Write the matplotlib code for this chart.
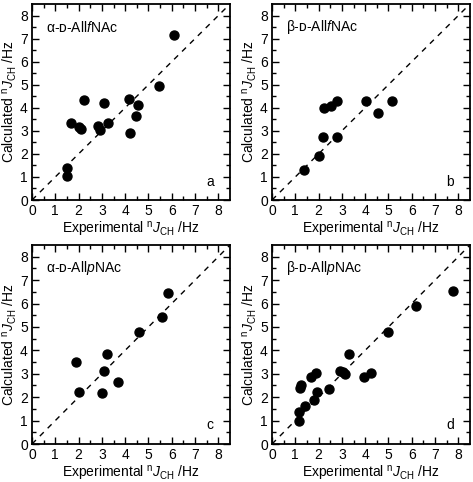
import matplotlib
matplotlib.use("Agg")
import matplotlib.pyplot as plt
import numpy as np

plt.rcParams["font.family"] = ["Liberation Sans", "DejaVu Sans"]
plt.rcParams["mathtext.fontset"] = "custom"
plt.rcParams["mathtext.rm"] = "Liberation Sans"
plt.rcParams["mathtext.it"] = "Liberation Sans:italic"
plt.rcParams["mathtext.bf"] = "Liberation Sans:bold"

# panel a: alpha-D-AllfNAc
a_exp = [1.49, 1.49, 1.68, 2.03, 2.11, 2.24, 2.84, 2.90, 3.07, 3.26, 4.17, 4.19, 4.45, 4.54, 5.44, 6.10]
a_calc = [1.02, 1.39, 3.35, 3.16, 3.10, 4.33, 3.20, 3.05, 4.19, 3.33, 4.39, 2.90, 3.66, 4.14, 4.96, 7.17]

# panel b: beta-D-AllfNAc
b_exp = [1.39, 2.03, 2.20, 2.22, 2.52, 2.80, 2.78, 4.05, 4.53, 5.16]
b_calc = [1.29, 1.89, 2.74, 4.00, 4.09, 4.31, 2.74, 4.29, 3.79, 4.29]

# panel c: alpha-D-AllpNAc
c_exp = [1.87, 2.03, 3.01, 3.10, 3.23, 3.70, 4.59, 5.57, 5.83]
c_calc = [3.50, 2.21, 2.19, 3.11, 3.84, 2.66, 4.79, 5.44, 6.43]

# panel d: beta-D-AllpNAc
d_exp = [1.14, 1.17, 1.22, 1.25, 1.42, 1.67, 1.82, 1.90, 1.93, 2.45,
         2.93, 3.03, 3.15, 3.31, 3.93, 4.25, 4.96, 6.18, 7.78]
d_calc = [0.97, 1.37, 2.40, 2.50, 1.62, 2.88, 1.89, 3.05, 2.20, 2.35,
          3.12, 3.09, 2.99, 3.84, 2.88, 3.02, 4.79, 5.90, 6.52]

titles = ["\u03b1-\u1d05-All$\\mathit{f}$NAc", "\u03b2-\u1d05-All$\\mathit{f}$NAc",
          "\u03b1-\u1d05-All$\\mathit{p}$NAc", "\u03b2-\u1d05-All$\\mathit{p}$NAc"]
letters = ["a", "b", "c", "d"]
data = [(a_exp, a_calc), (b_exp, b_calc), (c_exp, c_calc), (d_exp, d_calc)]

W, H = 473, 482
fig = plt.figure(figsize=(W / 100, H / 100), dpi=100)

# axes boxes in pixels: left, top, right, bottom
boxes = [(32, 4, 230, 200), (272, 4, 470, 200),
         (32, 245, 230, 444), (272, 245, 470, 444)]

for i, (l, t, r, b) in enumerate(boxes):
    ax = fig.add_axes([l / W, (H - b) / H, (r - l) / W, (b - t) / H])
    x, y = data[i]
    ax.plot([0, 8.5], [0, 8.5], color="black", lw=1, dashes=(4, 4))
    ax.scatter(x, y, s=42, color="black", zorder=3)
    ax.set_xlim(0, 8.5)
    ax.set_ylim(0, 8.5)
    ax.set_xticks(np.arange(0, 9, 1))
    ax.set_yticks(np.arange(0, 9, 1))
    ax.set_xticks(np.arange(0.5, 8.5, 0.5), minor=True)
    ax.set_yticks(np.arange(0.5, 8.5, 0.5), minor=True)
    ax.tick_params(which="both", direction="in", top=True, right=True, labelsize=10, pad=3)
    ax.tick_params(which="major", length=5, width=1)
    ax.tick_params(which="minor", length=3, width=1)
    for sp in ax.spines.values():
        sp.set_linewidth(1.3)
    ax.set_xlabel("Experimental $^{\\rm n}\\mathit{J}_{\\rm CH}$ /Hz", fontsize=10, labelpad=1)
    ax.set_ylabel("Calculated $^{\\rm n}\\mathit{J}_{\\rm CH}$ /Hz", fontsize=10, labelpad=1)
    ax.text(0.62, 7.5, titles[i], fontsize=10, ha="left", va="center")
    ax.text(7.65, 0.8, letters[i], fontsize=10, ha="center", va="center")

fig.savefig("out.png", dpi=100)
